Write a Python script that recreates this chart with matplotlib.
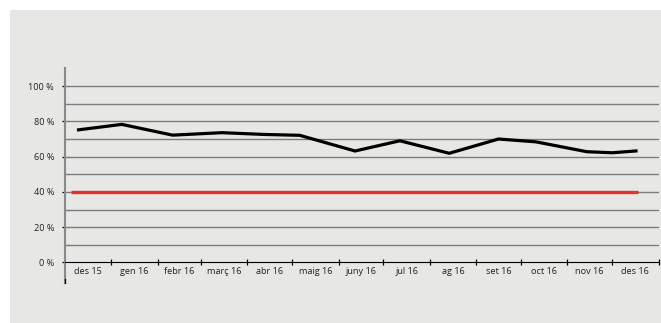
import matplotlib
matplotlib.use("Agg")
import matplotlib.pyplot as plt
import matplotlib.dates as mdates
from matplotlib.patches import Rectangle
import numpy as np

# Monthly result (%) by measurement date
dates = ["2015-12-09", "2016-01-08", "2016-02-11", "2016-03-15", "2016-04-12",
         "2016-05-06", "2016-06-12", "2016-07-12", "2016-08-14", "2016-09-16",
         "2016-10-11", "2016-11-14", "2016-12-01", "2016-12-18"]
values = [75.1, 78.3, 72.2, 73.6, 72.6, 72.1, 63.2, 69.0, 61.9, 70.0,
          68.4, 62.8, 62.2, 63.3]

# Target threshold
target_dates = ["2015-12-05", "2016-12-18"]
target_value = 40

# Month categories on the x axis
month_labels = ["des 15", "gen 16", "febr 16", "març 16", "abr 16", "maig 16",
                "juny 16", "jul 16", "ag 16", "set 16", "oct 16", "nov 16", "des 16"]
month_starts = ["2015-12-01", "2016-01-01", "2016-02-01", "2016-03-01", "2016-04-01",
                "2016-05-01", "2016-06-01", "2016-07-01", "2016-08-01", "2016-09-01",
                "2016-10-01", "2016-11-01", "2016-12-01", "2017-01-01"]

y_ticks = [0, 20, 40, 60, 80, 100]
grid_levels = list(range(0, 101, 10))

plt.rcParams['font.family'] = ['Open Sans', 'DejaVu Sans']
TEXT = "#231f20"
BG = "#e7e7e6"
GRID = "#7c7c7c"

W, H = 661, 323
fig = plt.figure(figsize=(W / 100, H / 100), dpi=100)
fig.patch.set_facecolor("white")
fig.patches.append(Rectangle((10 / W, 0), (W - 10) / W, (H - 10) / H,
                             transform=fig.transFigure, facecolor=BG,
                             edgecolor="none", zorder=-10))

left, right = 65, 658.5
top, bottom = 68, 283
ax = fig.add_axes([left / W, (H - bottom) / H, (right - left) / W, (bottom - top) / H])
ax.set_zorder(2)
ax.set_facecolor("none")

x = mdates.datestr2num(dates)
xt = mdates.datestr2num(target_dates)
ms = mdates.datestr2num(month_starts)
mid = (ms[:-1] + ms[1:]) / 2

ax.set_xlim(ms[0], ms[-1])
ax.set_ylim(-11.7, 110.3)

for g in grid_levels[1:]:
    ax.axhline(g, color=GRID, lw=1.0, zorder=1)

ax.plot(xt, [target_value, target_value], color="#e2332a", lw=2.4,
        solid_capstyle="butt", zorder=3)
ax.plot(x, values, color="black", lw=2.3, solid_joinstyle="miter",
        solid_capstyle="butt", zorder=4)

# Axes styling
for s in ("top", "right"):
    ax.spines[s].set_visible(False)
ax.spines["left"].set_color("#8a8a8a")
ax.spines["left"].set_linewidth(1.5)
ax.spines["bottom"].set_position(("data", 0))
ax.spines["bottom"].set_linestyle((0, (2.2, 0.8)))
ax.spines["bottom"].set_linewidth(0.8)
ax.spines["bottom"].set_color("black")

ax.set_xticks(ms[1:])
ax.set_xticklabels([])
ax.set_xticks(mid, minor=True)
ax.set_xticklabels(month_labels, minor=True)
ax.tick_params(axis="x", which="major", direction="inout", length=5, width=0.9, color="black")
ax.tick_params(axis="x", which="minor", length=0, pad=3.6, labelsize=6.6, labelcolor=TEXT)

ax.set_yticks(y_ticks)
ax.set_yticklabels([f"{v} %" for v in y_ticks])
ax.tick_params(axis="y", which="major", direction="out", length=2.4, width=0.9,
               color="black", pad=5.5, labelsize=6.6, labelcolor=TEXT)

# short dark stub at the foot of the vertical axis
ax.plot([0, 0], [0, 4 / (bottom - top)], transform=ax.transAxes, color="black",
        lw=0.9, clip_on=False, zorder=5)

fig.savefig("out.png", dpi=100)
